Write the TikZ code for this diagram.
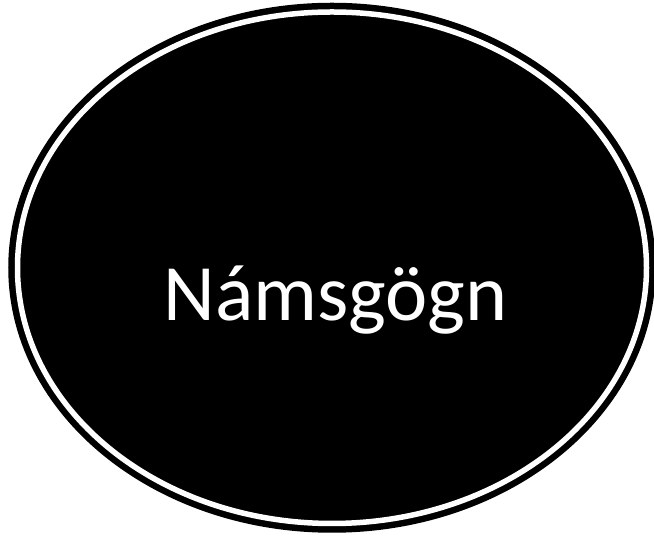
\documentclass[tikz,border=0pt]{standalone}
\usepackage{fontspec}
\setmainfont{Carlito}
\usetikzlibrary{arrows.meta,positioning}

\begin{document}
\begin{tikzpicture}[
      x=1pt, y=1pt,
      blob/.style={draw=black, fill=black, line width=6.5pt, double=white,
      double distance=5.5pt},
      lbl/.style={text=white, font=\fontsize{80}{90}\selectfont, inner sep=0pt}]
    \useasboundingbox (0,0) rectangle (654,540);
    \draw[blob] (332,272.25) ellipse [x radius=314.5, y radius=255.75];
    \coordinate (mid) at (332,272.25);
    \node[lbl, anchor=base] (nam) at (335.5,219) {Námsgögn};
  \end{tikzpicture}
\end{document}
